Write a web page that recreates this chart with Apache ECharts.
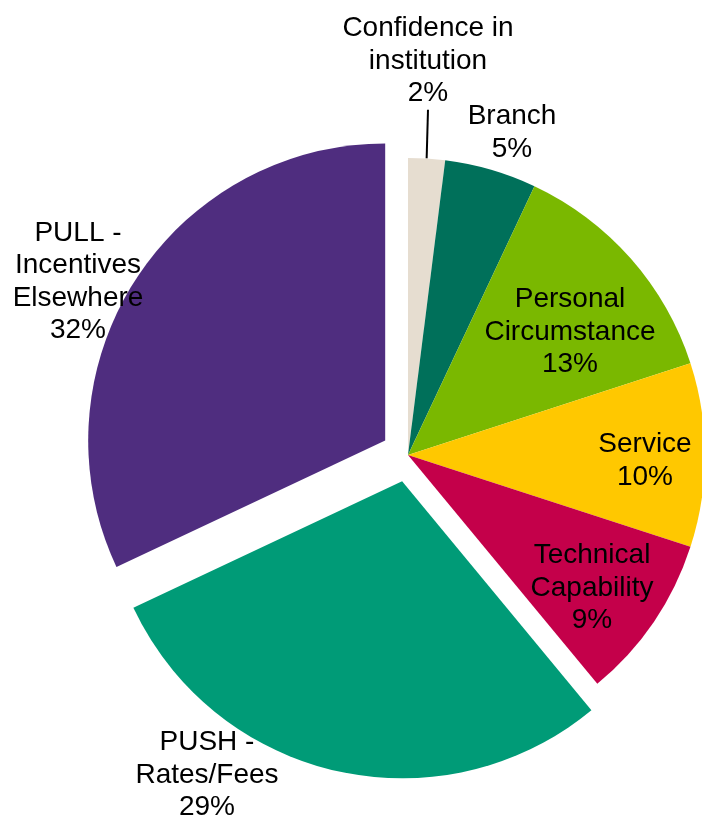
<!DOCTYPE html>
<html>
<head>
<meta charset="utf-8">
<script src="https://cdn.jsdelivr.net/npm/echarts@6/dist/echarts.min.js"></script>
<style>
  html, body { margin: 0; padding: 0; background: #ffffff; }
  #chart { width: 702px; height: 816px; }
</style>
</head>
<body>
<div id="chart"></div>
<script>
// Reasons for switching, share of responses (%)
const categories = [
  'Confidence in\ninstitution',
  'Branch',
  'Personal\nCircumstance',
  'Service',
  'Technical\nCapability',
  'PUSH -\nRates/Fees',
  'PULL -\nIncentives\nElsewhere'
];
const shares = [2, 5, 13, 10, 9, 29, 32];
const pulledOut = [false, false, false, false, false, true, true];
const sliceColors = ['#E6DDD0', '#00705A', '#7AB800', '#FFC800', '#C4004A', '#009B77', '#4F2D7F'];

// Label centres (px)
const labelSpots = [
  [428, 61], [512, 133], [570, 332], [645, 461], [592, 588], [207, 775], [78, 282]
];

const PIE_CENTER = [408, 455];
const PIE_RADIUS = 297;

const chart = echarts.init(document.getElementById('chart'), null, { renderer: 'canvas' });

// Coloured slices; the two big drivers are pulled out of the pie
const sliceData = categories.map((name, i) => ({
  name: name,
  value: shares[i],
  selected: pulledOut[i],
  itemStyle: { color: sliceColors[i] }
}));

// Same slices, unfilled, carrying the labels (and the leader for the thin slice)
const labelData = categories.map((name, i) => ({
  name: name,
  value: shares[i],
  label: { position: i === 0 ? 'outside' : 'inside' },
  labelLine: { show: i === 0 }
}));

chart.setOption({
  animation: false,
  series: [
    {
      type: 'pie',
      center: PIE_CENTER,
      radius: PIE_RADIUS,
      startAngle: 90,
      clockwise: true,
      selectedMode: 'multiple',
      selectedOffset: 27,
      emphasis: { disabled: true },
      itemStyle: { borderWidth: 0 },
      label: { show: false },
      labelLine: { show: false },
      data: sliceData
    },
    {
      type: 'pie',
      silent: true,
      center: PIE_CENTER,
      radius: PIE_RADIUS,
      startAngle: 90,
      clockwise: true,
      avoidLabelOverlap: false,
      emphasis: { disabled: true },
      itemStyle: { color: 'rgba(0,0,0,0)', borderWidth: 0 },
      label: {
        show: true,
        formatter: p => p.name + '\n' + p.value + '%',
        fontFamily: 'Liberation Sans, Arial, sans-serif',
        fontSize: 28,
        lineHeight: 32.5,
        color: '#000000',
        align: 'center'
      },
      labelLine: {
        length: 0,
        length2: 0,
        lineStyle: { color: '#000000', width: 2 }
      },
      labelLayout: p => ({
        x: labelSpots[p.dataIndex][0],
        y: labelSpots[p.dataIndex][1],
        align: 'center',
        verticalAlign: 'middle'
      }),
      data: labelData
    }
  ]
});
</script>
</body>
</html>
